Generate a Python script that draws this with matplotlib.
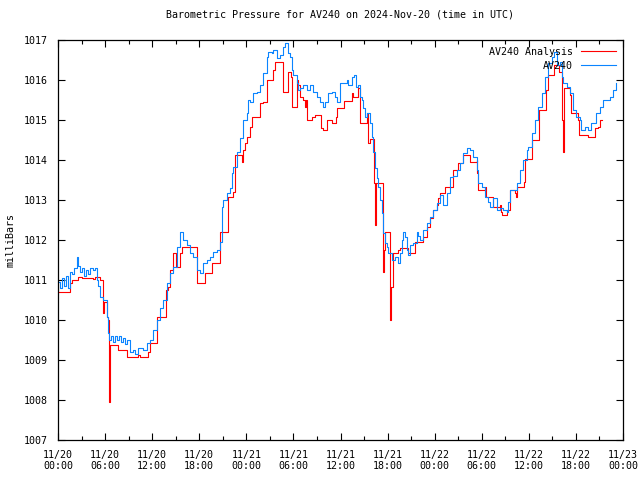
# barometric pressure plot for AV240, observations vs analysis

import numpy as np
import pandas as pd
import matplotlib
matplotlib.use("Agg")
import matplotlib.pyplot as plt
import matplotlib.dates as mdates

start = pd.Timestamp("2024-11-20 00:00")

# hours after start, pressure in mbar (observed station)
obs_hours = [0.0, 0.25, 0.5, 0.76, 1.02, 1.27, 1.53, 1.78, 2.04, 2.38, 2.55, 2.8, 3.06, 3.31,
             3.57, 3.82, 4.08, 4.46, 4.71, 4.93, 5.1, 5.35, 5.73, 6.2, 6.41, 6.53, 6.75, 7.0,
             7.26, 7.52, 7.77, 8.03, 8.28, 8.54, 8.79, 9.17, 9.55, 9.81, 10.19, 10.45, 10.83,
             11.3, 11.72, 12.1, 12.57, 12.99, 13.38, 13.85, 14.27, 14.65, 15.12, 15.54, 15.92,
             16.39, 16.82, 17.2, 17.67, 18.09, 18.47, 18.94, 19.36, 19.75, 20.22, 20.64, 20.85,
             21.06, 21.49, 21.91, 22.13, 22.33, 22.76, 23.18, 23.6, 24.04, 24.24, 24.46, 24.88,
             25.31, 25.73, 26.15, 26.59, 26.79, 27.22, 27.43, 27.86, 28.28, 28.7, 28.92, 29.34,
             29.55, 29.77, 29.97, 30.41, 30.61, 30.83, 31.25, 31.68, 32.1, 32.52, 32.96, 33.38,
             33.72, 34.01, 34.43, 34.87, 35.29, 35.5, 35.92, 36.34, 36.78, 36.98, 37.41, 37.71,
             37.96, 38.25, 38.47, 38.69, 38.89, 39.11, 39.4, 39.75, 39.96, 40.17, 40.38, 40.6,
             40.8, 41.02, 41.24, 41.44, 41.66, 41.87, 42.08, 42.51, 42.93, 43.35, 43.57, 43.78,
             43.99, 44.2, 44.42, 44.62, 44.84, 45.26, 45.69, 45.9, 46.11, 46.54, 46.97, 47.39,
             47.81, 48.24, 48.66, 49.08, 49.52, 49.94, 50.36, 50.79, 51.21, 51.63, 52.06, 52.48,
             52.9, 53.34, 53.54, 53.97, 54.39, 54.82, 55.03, 55.45, 55.89, 56.31, 56.73, 57.16,
             57.36, 57.58, 58.0, 58.43, 58.85, 59.27, 59.71, 59.91, 60.34, 60.76, 61.18, 61.62,
             62.04, 62.46, 62.89, 63.22, 63.53, 63.95, 64.17, 64.37, 64.8, 65.22, 65.64, 66.07,
             66.5, 66.71, 67.13, 67.55, 67.98, 68.62, 69.04, 69.46, 70.32, 70.74, 71.08]
obs_mbar = [1010.95, 1010.8, 1011.05, 1010.85, 1011.1, 1010.8, 1011.2, 1011.15, 1011.3, 1011.58,
            1011.35, 1011.2, 1011.3, 1011.1, 1011.25, 1011.15, 1011.3, 1011.25, 1011.3, 1011.0,
            1010.85, 1010.58, 1010.5, 1010.08, 1009.67, 1009.5, 1009.6, 1009.45, 1009.6, 1009.5,
            1009.6, 1009.45, 1009.55, 1009.4, 1009.5, 1009.2, 1009.25, 1009.15, 1009.3, 1009.3,
            1009.25, 1009.42, 1009.5, 1009.75, 1010.0, 1010.3, 1010.5, 1010.92, 1011.17, 1011.33,
            1011.83, 1012.2, 1012.0, 1011.87, 1011.67, 1011.58, 1011.25, 1011.17, 1011.42, 1011.5,
            1011.58, 1011.7, 1011.75, 1011.95, 1012.83, 1013.0, 1013.17, 1013.3, 1013.67, 1013.83,
            1014.2, 1014.55, 1015.0, 1015.17, 1015.5, 1015.45, 1015.67, 1015.7, 1015.87, 1016.17,
            1016.58, 1016.7, 1016.67, 1016.75, 1016.54, 1016.62, 1016.83, 1016.92, 1016.67,
            1016.58, 1016.25, 1016.12, 1015.92, 1015.75, 1015.8, 1015.87, 1015.75, 1015.87,
            1015.7, 1015.58, 1015.46, 1015.33, 1015.46, 1015.67, 1015.7, 1015.58, 1015.46,
            1015.92, 1015.92, 1016.0, 1015.87, 1016.08, 1016.12, 1015.83, 1015.87, 1015.58,
            1015.5, 1015.29, 1015.08, 1015.17, 1014.92, 1014.58, 1014.2, 1013.8, 1013.55,
            1013.33, 1013.0, 1012.67, 1012.17, 1011.92, 1011.83, 1011.67, 1011.5, 1011.58,
            1011.42, 1011.67, 1012.0, 1012.2, 1012.08, 1011.75, 1011.63, 1011.87, 1011.92,
            1012.2, 1012.1, 1012.0, 1012.25, 1012.42, 1012.58, 1012.75, 1012.92, 1013.12,
            1012.87, 1013.17, 1013.58, 1013.6, 1013.75, 1013.92, 1014.17, 1014.29, 1014.25,
            1014.08, 1013.75, 1013.42, 1013.33, 1013.08, 1012.96, 1012.83, 1013.04, 1012.75,
            1012.79, 1012.75, 1012.7, 1012.96, 1013.25, 1013.25, 1013.42, 1013.75, 1014.0,
            1014.25, 1014.33, 1014.67, 1015.0, 1015.33, 1015.67, 1016.08, 1016.42, 1016.58,
            1016.7, 1016.38, 1016.45, 1016.08, 1015.92, 1015.83, 1015.67, 1015.25, 1015.08,
            1015.0, 1014.75, 1014.83, 1014.75, 1014.92, 1015.17, 1015.33, 1015.5, 1015.58,
            1015.75, 1015.92]

# analysis values (step changes)
ana_hours = [0.0, 1.53, 1.75, 2.59, 3.02, 4.5, 4.71, 5.35, 5.69, 5.77, 5.86, 6.2, 6.41, 6.5,
             6.59, 6.66, 7.68, 8.83, 10.23, 10.45, 11.5, 11.72, 12.65, 13.72, 14.05, 14.27,
             14.69, 15.03, 15.54, 15.76, 17.66, 18.73, 19.58, 20.64, 21.62, 22.33, 22.55, 23.44,
             23.6, 23.82, 24.04, 24.46, 24.67, 25.73, 26.15, 26.59, 27.43, 27.64, 28.62, 28.7,
             29.3, 29.64, 29.77, 30.41, 30.61, 30.83, 31.25, 31.46, 31.59, 31.68, 32.32, 32.74,
             33.5, 33.8, 34.31, 34.87, 35.41, 35.58, 36.43, 37.41, 37.62, 38.25, 38.47, 39.36,
             39.53, 39.8, 40.25, 40.38, 40.51, 41.36, 41.44, 41.53, 41.66, 42.36, 42.48, 42.64,
             43.35, 43.57, 44.62, 45.48, 46.54, 46.97, 47.39, 47.81, 48.24, 48.44, 48.66, 49.3,
             50.36, 51.0, 51.63, 52.48, 53.34, 53.41, 53.54, 54.39, 54.48, 55.45, 56.31, 56.39,
             56.52, 57.23, 57.58, 58.22, 58.31, 58.43, 59.36, 59.49, 60.41, 61.35, 62.2, 62.41,
             63.27, 63.82, 64.17, 64.29, 64.37, 64.46, 65.22, 65.31, 66.28, 66.37, 67.49, 68.41,
             68.83, 69.04, 69.3]
ana_mbar = [1010.71, 1010.92, 1011.0, 1011.08, 1011.04, 1011.02, 1011.08, 1011.0, 1010.83,
            1010.17, 1010.46, 1010.08, 1010.0, 1007.96, 1008.67, 1009.38, 1009.25, 1009.08,
            1009.12, 1009.08, 1009.21, 1009.42, 1010.08, 1010.75, 1010.83, 1011.25, 1011.67,
            1011.33, 1011.67, 1011.83, 1010.92, 1011.17, 1011.42, 1012.2, 1013.08, 1013.21,
            1014.13, 1013.96, 1014.25, 1014.42, 1014.58, 1014.83, 1015.08, 1015.42, 1015.46,
            1016.0, 1016.25, 1016.44, 1016.17, 1015.71, 1016.21, 1016.08, 1015.33, 1016.0,
            1015.87, 1015.58, 1015.5, 1015.33, 1015.5, 1015.0, 1015.08, 1015.13, 1014.79,
            1014.75, 1015.0, 1014.92, 1015.08, 1015.29, 1015.48, 1015.67, 1015.58, 1015.79,
            1014.92, 1015.17, 1014.42, 1014.52, 1013.42, 1012.38, 1013.42, 1012.21, 1011.21,
            1011.75, 1012.2, 1010.0, 1010.83, 1011.67, 1011.75, 1011.79, 1011.67, 1011.96,
            1012.08, 1012.33, 1012.54, 1012.75, 1012.88, 1013.04, 1013.17, 1013.33, 1013.75,
            1013.92, 1014.13, 1013.96, 1014.0, 1013.67, 1013.25, 1013.33, 1013.08, 1012.83,
            1012.88, 1012.71, 1012.63, 1012.75, 1013.25, 1013.17, 1013.08, 1013.33, 1013.46,
            1014.02, 1014.5, 1015.25, 1015.75, 1016.13, 1016.38, 1016.21, 1016.08, 1015.0,
            1014.2, 1015.79, 1015.63, 1015.17, 1015.0, 1014.63, 1014.58, 1014.79, 1014.83,
            1015.0, 1015.0]

obs_t = start + pd.to_timedelta(obs_hours, unit="h")
ana_t = start + pd.to_timedelta(ana_hours, unit="h")

plt.rcParams["font.family"] = "DejaVu Sans Mono"
plt.rcParams["font.size"] = 7.2

fig = plt.figure(figsize=(6.4, 4.8), dpi=100)
ax = fig.add_axes([58 / 640, 40 / 480, 565 / 640, 400 / 480])

ax.plot(ana_t, ana_mbar, color="#ff0000", lw=0.8, drawstyle="steps-post", label="AV240 Analysis")
ax.plot(obs_t, obs_mbar, color="#0a84ff", lw=0.8, drawstyle="steps-post", label="AV240")

ax.set_xlim(start, start + pd.Timedelta(hours=72))
ax.set_ylim(1007, 1017)
ax.set_yticks(np.arange(1007, 1018, 1))
ax.xaxis.set_major_locator(mdates.HourLocator(byhour=[0, 6, 12, 18]))
ax.xaxis.set_minor_locator(mdates.HourLocator(byhour=[3, 9, 15, 21]))
ax.xaxis.set_major_formatter(mdates.DateFormatter("%m/%d\n%H:%M"))
ax.tick_params(which="both", direction="in", top=True, right=True, width=0.8)
ax.tick_params(which="major", length=5, pad=7)
ax.tick_params(which="minor", length=3)
for s in ax.spines.values():
    s.set_linewidth(0.9)

ax.set_ylabel("milliBars", labelpad=6)
ax.set_title("Barometric Pressure for AV240 on 2024-Nov-20 (time in UTC)", fontsize=7.2, pad=16)
ax.legend(loc="upper right", frameon=False, markerfirst=False, handlelength=3.5,
          borderaxespad=0.3, labelspacing=0.4, handletextpad=0.8)

fig.savefig("out.png", dpi=100)
